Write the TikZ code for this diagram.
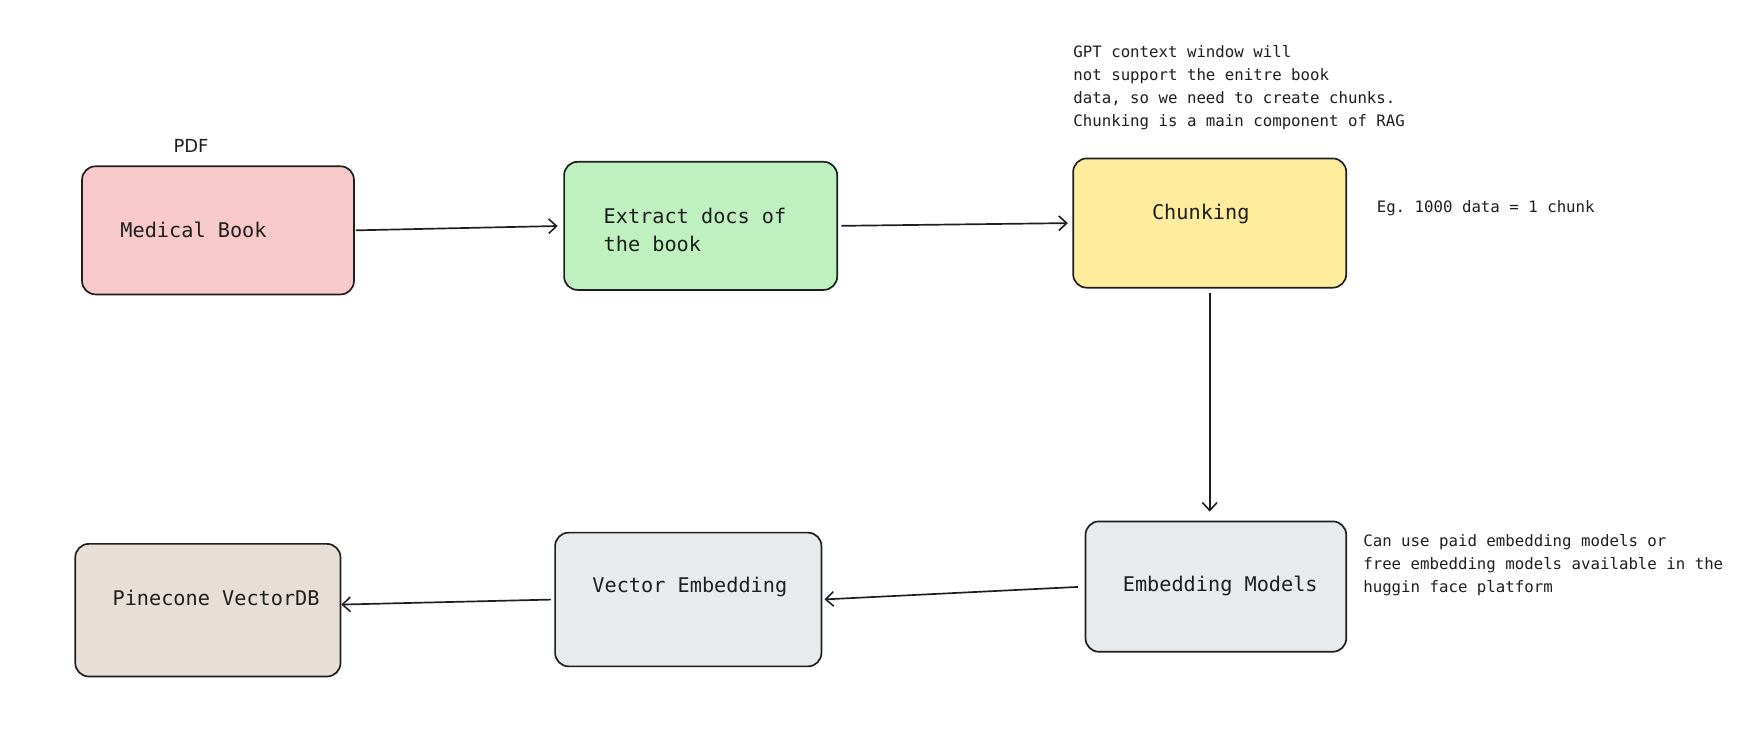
\documentclass[tikz,border=0pt]{standalone}
\usepackage{fontspec}
\setmainfont{DejaVu Sans}
\setmonofont{DejaVu Sans Mono}
\usetikzlibrary{arrows.meta}

\definecolor{inkgray}{HTML}{1E1E1E}
\definecolor{redfill}{HTML}{F8C9C9}
\definecolor{greenfill}{HTML}{BFF0BF}
\definecolor{yellowfill}{HTML}{FFEC9C}
\definecolor{grayfill}{HTML}{E8EBEE}
\definecolor{brownfill}{HTML}{E8DED8}

\begin{document}
\begin{tikzpicture}
    [
        x=1pt, y=-1pt,
        box/.style={rectangle, rounded corners=12pt, draw=inkgray, line width=1.5pt, inner sep=0pt,},
        boxtext/.style={font=\ttfamily\fontsize{18}{25}\selectfont, text=inkgray, inner sep=0pt, align=left, anchor=west,},
        note/.style={font=\ttfamily\fontsize{14}{20.7}\selectfont, text=inkgray, inner sep=0pt, align=left,},
        edge/.style={-{Straight Barb[length=7pt,width=13pt,line width=1.4pt]}, draw=inkgray, line width=1.5pt,},
    ]
    \useasboundingbox (0,0) rectangle (1568,653);

    % boxes
    \node (med)   at (194,205)    [box, fill=redfill,    minimum width=242pt, minimum height=114pt] {};
    \node (ext)   at (623.5,201)  [box, fill=greenfill,  minimum width=243pt, minimum height=114pt] {};
    \node (chunk) at (1076.5,198.5) [box, fill=yellowfill, minimum width=243pt, minimum height=115pt] {};
    \node (embm)  at (1082,522)   [box, fill=grayfill,   minimum width=232pt, minimum height=116pt] {};
    \node (vec)   at (612.5,533.5) [box, fill=grayfill,  minimum width=237pt, minimum height=119pt] {};
    \node (pine)  at (185,543)    [box, fill=brownfill,  minimum width=236pt, minimum height=118pt] {};

    % box texts
    \node (medtxt)   at (107,205)   [boxtext] {Medical Book};
    \node (exttxt)   at (537,204.5) [boxtext] {Extract docs of\\the book};
    \node (chunktxt) at (1025,190)  [boxtext] {Chunking};
    \node (embmtxt)  at (999,521)   [boxtext] {Embedding Models};
    \node (vectxt)   at (527,522)   [boxtext] {Vector Embedding};
    \node (pinetxt)  at (100,532)   [boxtext] {Pinecone VectorDB};

    % notes
    \node (pdf)    at (170,130)  [font=\fontsize{16}{19}\selectfont, text=inkgray] {PDF};
    \node (gpt)    at (955,40)   [note, anchor=north west] {GPT context window will\\not support the enitre book\\data, so we need to create chunks.\\Chunking is a main component of RAG};
    \node (eg)     at (1225,185) [note, anchor=west] {Eg. 1000 data = 1 chunk};
    \node (canuse) at (1213,475) [note, anchor=north west] {Can use paid embedding models or\\free embedding models available in the\\huggin face platform};

    % flow
    \draw [edge, shorten <=1pt, shorten >=5pt] (med.east) -- (ext.west);
    \draw [edge, shorten <=3pt, shorten >=4pt] (ext.east) -- (chunk.west);
    \draw [edge, shorten <=4pt, shorten >=8pt] (chunk.south) -- (chunk.south |- embm.north);
    \draw [edge, shorten <=6pt, shorten >=2pt] (embm.west) -- (vec.east);
    \draw [edge, shorten <=3pt, shorten >=0pt] (vec.west) -- ([yshift=5pt]pine.east);

\end{tikzpicture}
\end{document}
